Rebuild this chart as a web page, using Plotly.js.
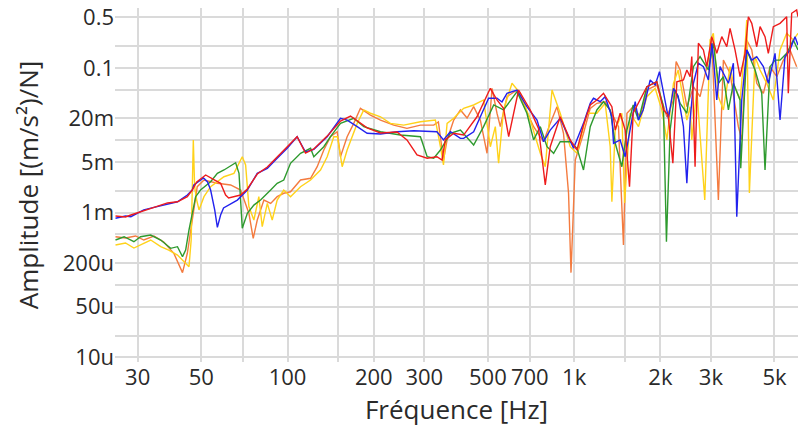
<!DOCTYPE html>
<html>
<head>
<meta charset="utf-8">
<script src="https://cdn.plot.ly/plotly-3.0.1.min.js"></script>
<style>
  html, body { margin: 0; padding: 0; background: #ffffff; }
  #chart { width: 798px; height: 427px; }
</style>
</head>
<body>
<div id="chart"></div>
<script>
// ---- Data (frequency in Hz, amplitude in (m/s²)/N) ----
const freqBlue = [25.1,27.2,28.4,31.5,34.2,38.1,41.3,44.7,46.5,47.1,50.9,52.6,53.9,55.7,56.9,58.4,59.8,66.8,72.4,78.4,85.0,92.0,99.7,108,115.5,123.5,137.5,153,161.4,175,189.5,211,241,275.5,315,332,350,370,401,411.5,446,483,503,538,560,583,632,684,742,782,825,894,995,1078,1138,1168,1233,1283,1354,1372,1447,1507,1569,1633,1677,1741,1842,1917,1985,2077,2133,2221,2306,2406,2473,2539,2607,2713,2825,2940,3021,3060,3145,3229,3453,3594,3693,3844,4001,4166,4336,4573,4759,5023,5228,5441,5665,5896,6039];
const ampBlue = [8.34e-4,8.97e-4,8.78e-4,1.09e-3,1.18e-3,1.32e-3,1.41e-3,1.75e-3,2.05e-3,2.41e-3,3.01e-3,2.65e-3,2.05e-3,1.09e-3,6.26e-4,9.27e-4,1.16e-3,1.49e-3,2.05e-3,3.49e-3,4.09e-3,5.63e-3,7.74e-3,1.12e-2,6.88e-3,7.49e-3,1.12e-2,2.01e-2,1.90e-2,1.54e-2,1.25e-2,1.22e-2,1.31e-2,1.35e-2,1.31e-2,1.31e-2,1.01e-2,1.31e-2,1.06e-2,1.06e-2,1.31e-2,2.76e-2,3.80e-2,3.80e-2,3.38e-2,4.45e-2,4.95e-2,2.91e-2,1.90e-2,9.54e-3,1.38e-2,2.01e-2,7.74e-3,1.71e-2,3.24e-2,3.80e-2,3.41e-2,4.00e-2,2.11e-2,9.07e-3,1.01e-2,5.92e-3,1.38e-2,3.41e-2,1.90e-2,2.62e-2,6.80e-2,5.80e-2,8.86e-2,3.60e-2,2.01e-2,5.22e-2,4.09e-2,1.54e-2,2.54e-3,1.90e-2,6.12e-2,0.116,0.104,6.80e-2,0.219,0.143,3.60e-2,0.104,6.12e-2,0.116,8.78e-4,3.60e-2,0.177,0.128,0.143,0.104,6.12e-2,0.159,1.90e-2,0.143,0.177,0.270,0.207];

const freqRed = [25.1,27.2,28.4,31.5,34.2,38.1,41.3,44.7,46.5,48.2,51.8,55.7,58.4,60.8,62.3,68.6,72.4,78.4,85.0,92.0,99.7,108,115.5,123.5,137.5,153,165.8,189.5,211,241,261,283,307,332,346,355,380,411.5,458,483,510,538,567,591,615,640,703,751,793,825,894,969,1023,1078,1138,1200,1266,1354,1391,1447,1507,1560,1607,1677,1794,1943,2049,2128,2210,2282,2406,2473,2539,2573,2642,2713,2825,2903,3021,3145,3274,3408,3499,3642,3792,3947,4054,4166,4336,4453,4634,4759,4954,5228,5515,5587,5741,5976,6039];
const ampRed = [8.97e-4,8.69e-4,9.27e-4,1.05e-3,1.18e-3,1.36e-3,1.41e-3,1.66e-3,2.05e-3,2.65e-3,3.31e-3,2.82e-3,2.54e-3,1.75e-3,1.59e-3,1.75e-3,2.12e-3,3.41e-3,4.27e-3,5.87e-3,8.06e-3,1.12e-2,6.66e-3,7.57e-3,1.14e-2,1.84e-2,2.16e-2,1.48e-2,1.26e-2,1.30e-2,1.01e-2,6.25e-3,5.63e-3,5.92e-3,5.33e-3,1.01e-2,1.25e-2,1.18e-2,2.11e-2,3.27e-2,5.22e-2,3.60e-2,2.76e-2,1.12e-2,2.36e-2,4.95e-2,2.62e-2,1.46e-2,2.41e-3,8.14e-3,2.11e-2,1.01e-2,7.33e-3,1.62e-2,3.07e-2,3.60e-2,4.45e-2,2.91e-2,1.38e-2,2.36e-2,1.38e-2,2.28e-3,2.38e-2,3.27e-2,5.49e-2,6.44e-2,2.62e-2,2.23e-2,4.80e-3,6.44e-2,6.80e-2,9.35e-2,7.55e-2,0.143,4.31e-3,0.219,0.177,0.104,0.270,0.159,0.270,0.196,0.352,0.177,7.55e-2,0.159,0.509,0.413,0.196,0.371,0.270,0.159,0.371,0.413,0.509,4.45e-2,0.568,0.631,0.509];

const freqGreen = [25.1,26.9,29.1,30.7,33.3,36.1,39.1,41.3,43.0,44.1,45.3,46.5,47.8,49.7,53.9,56.9,60.0,65.9,67.7,69.5,72.4,76.3,80.5,87.3,92.0,97.0,102.4,111,120.3,123.5,133.8,141.2,153,170.2,184.5,211,247.6,290.8,307,323.6,341.5,370,401,446,483,524,567,632,684,722,762,804,848,894,969,1023,1078,1138,1200,1266,1336,1391,1467,1528,1607,1677,1794,1943,2049,2099,2162,2251,2343,2473,2607,2750,2940,3060,3186,3317,3453,3594,3792,3813,4001,4278,4514,4634,4824,5023,5228,5515,5817,6039];
const ampGreen = [4.18e-4,4.64e-4,3.96e-4,4.64e-4,4.90e-4,4.18e-4,3.21e-4,3.38e-4,2.46e-4,3.04e-4,5.75e-4,9.78e-4,1.66e-3,2.05e-3,2.67e-3,3.49e-3,3.88e-3,4.89e-3,3.49e-3,6.07e-4,9.78e-4,1.27e-3,1.49e-3,2.05e-3,2.54e-3,2.82e-3,4.80e-3,6.60e-3,7.74e-3,5.92e-3,8.14e-3,1.12e-2,1.71e-2,2.01e-2,1.54e-2,1.31e-2,1.18e-2,1.12e-2,5.92e-3,5.63e-3,7.33e-3,1.25e-2,1.38e-2,8.59e-3,1.54e-2,3.07e-2,2.62e-2,4.69e-2,2.36e-2,1.01e-2,1.54e-2,8.14e-3,6.60e-3,9.54e-3,9.54e-3,7.74e-3,3.88e-3,1.54e-2,2.62e-2,3.41e-2,2.62e-2,9.07e-3,4.31e-3,1.38e-2,3.07e-2,1.90e-2,5.49e-2,6.44e-2,2.91e-2,3.96e-4,1.38e-2,4.95e-2,3.24e-2,2.36e-2,0.104,0.143,9.35e-2,0.219,6.12e-2,7.55e-2,2.62e-2,6.12e-2,3.60e-2,4.09e-3,0.177,9.35e-2,4.45e-2,3.88e-3,0.104,0.128,0.128,0.159,0.243,0.177];

const freqOrange = [25.1,27.2,29.5,31.5,34.2,37.0,40.1,43.0,44.7,47.1,48.4,51.1,56.9,63.3,68.6,73.3,75.9,78.4,82.7,87.3,92.0,97.0,102.4,111,120.3,126.9,133.8,141.2,149,153,161.4,170.2,179.6,194.6,211,234.7,261,290.8,323.6,336,350,360.3,380,401,423,446,470.6,496.6,516.9,538,552.6,583,632,722,782,825,871,918,956,975,1009,1078,1138,1200,1283,1372,1428,1486,1528,1607,1699,1794,1943,2106,2221,2269,2343,2473,2607,2750,2903,3021,3186,3317,3499,3741,3844,4001,4166,4336,4573,4824,5092,5369,5665,5976];
const ampOrange = [4.64e-4,4.46e-4,4.75e-4,4.18e-4,4.75e-4,3.92e-4,2.74e-4,1.48e-4,2.74e-4,1.21e-3,2.28e-3,2.82e-3,2.54e-3,2.41e-3,2.05e-3,9.78e-4,4.41e-4,7.90e-4,1.49e-3,1.34e-3,1.66e-3,1.85e-3,1.94e-3,2.82e-3,2.98e-3,4.31e-3,7.33e-3,1.12e-2,1.31e-2,5.92e-3,1.12e-2,1.71e-2,2.76e-2,2.23e-2,1.90e-2,1.62e-2,1.46e-2,1.62e-2,1.62e-2,1.79e-2,5.33e-3,1.01e-2,1.90e-2,2.62e-2,2.03e-2,2.91e-2,1.90e-2,6.60e-3,5.22e-2,2.36e-2,1.54e-2,4.00e-2,4.95e-2,1.54e-2,9.54e-3,1.71e-2,2.91e-2,1.25e-2,1.85e-3,1.48e-4,5.33e-3,1.25e-2,2.76e-2,3.24e-2,3.41e-2,2.11e-2,1.54e-2,3.57e-4,2.36e-2,2.91e-2,2.11e-2,4.95e-2,5.80e-2,2.11e-2,3.60e-2,0.122,9.35e-2,2.91e-2,5.49e-2,4.00e-2,0.104,0.243,1.49e-3,0.128,8.42e-2,1.54e-2,1.01e-2,0.243,0.177,6.12e-2,4.45e-2,0.104,7.55e-2,0.128,0.177,0.104];

const freqYellow = [25.1,27.2,29.1,31.5,33.3,36.1,38.5,41.3,44.1,45.3,46.1,46.9,47.4,48.2,49.1,51.1,53.9,60.0,65.0,69.5,71.4,73.3,76.3,79.4,81.6,85.0,88.4,92.0,97.0,102.4,111,120.3,130.3,137.5,145,149.3,155.1,161.4,175,184.5,194.6,211,228.5,254.3,290.8,328,341.5,350,360.3,380,411.5,446,483,510,530.8,545,567,607,648.6,703,762,793,837,894,969,1023,1108,1200,1283,1336,1354,1391,1467,1500,1569,1677,1794,1917,2023,2106,2221,2306,2473,2539,2573,2679,2856,2980,3060,3186,3317,3499,3594,3792,3947,4001,4087,4278,4453,4697,4954,5228,5515,5817,6039];
const ampYellow = [3.57e-4,3.80e-4,3.24e-4,3.76e-4,4.18e-4,3.38e-4,3.04e-4,2.59e-4,1.99e-4,1.79e-4,4.18e-4,1.01e-2,2.28e-3,1.49e-3,1.09e-3,1.66e-3,2.28e-3,3.13e-3,3.49e-3,5.92e-3,4.55e-3,1.21e-3,7.90e-4,1.66e-3,6.38e-4,1.34e-3,7.90e-4,1.49e-3,2.05e-3,1.66e-3,2.28e-3,2.82e-3,3.88e-3,5.92e-3,1.12e-2,1.12e-2,4.31e-3,7.33e-3,1.71e-2,2.62e-2,2.36e-2,2.11e-2,1.71e-2,1.62e-2,1.80e-2,1.90e-2,8.14e-3,4.55e-3,1.71e-2,2.01e-2,2.76e-2,3.07e-2,3.60e-2,8.14e-3,1.54e-2,4.80e-3,2.62e-2,6.12e-2,4.45e-2,1.90e-2,6.60e-3,4.31e-3,4.95e-2,2.36e-2,8.14e-3,6.60e-3,2.36e-2,2.36e-2,3.24e-2,8.14e-3,1.41e-3,1.38e-2,2.36e-2,1.36e-3,2.36e-2,1.54e-2,4.00e-2,5.22e-2,2.62e-2,1.01e-2,6.12e-2,9.35e-2,1.90e-2,2.91e-2,1.01e-2,4.95e-2,1.49e-3,0.243,0.300,4.00e-2,2.62e-2,0.104,6.12e-2,3.60e-2,0.196,0.459,1.87e-3,0.143,9.35e-2,6.12e-2,3.60e-2,0.177,0.300,0.243,0.300];

// Axis ticks (empty labels = gridline without a label)
const xTickVals = [30,50,70,100,150,200,300,500,700,1000,1500,2000,3000,5000];
const xTickText = ["30","50","","100","","200","300","500","700","1k","","2k","3k","5k"];
const yTickVals = [1e-5,2e-5,5e-5,1e-4,2e-4,5e-4,1e-3,2e-3,5e-3,1e-2,2e-2,5e-2,0.1,0.2,0.5];
const yTickText = ["10u","","50u","","200u","","1m","","5m","","20m","","0.1","","0.5"];

const seriesList = [
  {name: "Orange", x: freqOrange, y: ampOrange, color: "#f47b3f"},
  {name: "Jaune",  x: freqYellow, y: ampYellow, color: "#ffd21a"},
  {name: "Vert",   x: freqGreen,  y: ampGreen,  color: "#2e9a2e"},
  {name: "Bleu",   x: freqBlue,   y: ampBlue,   color: "#2222ee"},
  {name: "Rouge",  x: freqRed,    y: ampRed,    color: "#ee1c1c"}
];

const traces = seriesList.map(s => ({
  type: "scatter", mode: "lines", name: s.name,
  x: s.x, y: s.y,
  line: {color: s.color, width: 1.4},
  hoverinfo: "x+y+name"
}));

const gridCol = "#dadada";
const fontFam = "'Open Sans', 'DejaVu Sans', sans-serif";
const layout = {
  width: 798, height: 427,
  margin: {l: 115, r: 0, t: 8, b: 65},
  paper_bgcolor: "#ffffff", plot_bgcolor: "#ffffff",
  showlegend: false,
  font: {family: fontFam, color: "#2a2a2a", size: 22},
  xaxis: {
    type: "log",
    range: [Math.log10(25), Math.log10(6040)],
    tickmode: "array", tickvals: xTickVals, ticktext: xTickText,
    showgrid: true, gridcolor: gridCol, gridwidth: 2,
    zeroline: false, showline: false, ticks: "",
    tickfont: {family: fontFam, size: 22, color: "#2a2a2a"},
    title: {text: "Fréquence [Hz]", font: {family: fontFam, size: 26, color: "#2a2a2a"}, standoff: 4},
    automargin: false
  },
  yaxis: {
    type: "log",
    range: [-5.0647, -0.1725],
    tickmode: "array", tickvals: yTickVals, ticktext: yTickText,
    showgrid: true, gridcolor: gridCol, gridwidth: 2,
    zeroline: false, showline: false, ticks: "",
    tickfont: {family: fontFam, size: 22, color: "#2a2a2a"},
    title: {text: "Amplitude [(m/s²)/N]", font: {family: fontFam, size: 26, color: "#2a2a2a"}, standoff: 16},
    automargin: false
  }
};

Plotly.newPlot("chart", traces, layout, {displayModeBar: false, staticPlot: true});
</script>
</body>
</html>
